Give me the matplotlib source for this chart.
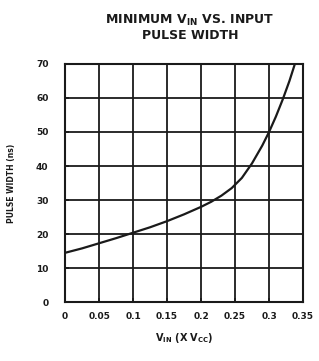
import matplotlib
matplotlib.use("Agg")
import matplotlib.pyplot as plt

plt.rcParams['font.family'] = ['DejaVu Sans']
plt.rcParams['mathtext.default'] = 'bf'

# curve
vin = [0.0, 0.025, 0.05, 0.075, 0.10, 0.125, 0.15, 0.175, 0.20, 0.215, 0.23,
       0.245, 0.26, 0.275, 0.29, 0.30, 0.31, 0.32, 0.33, 0.338]
pulse_width = [14.5, 15.8, 17.3, 18.8, 20.4, 22.0, 23.8, 25.8, 28.0, 29.5, 31.3,
               33.5, 36.5, 40.8, 46.0, 50.0, 54.5, 59.5, 65.0, 70.0]

x_ticks = [0, 0.05, 0.1, 0.15, 0.2, 0.25, 0.3, 0.35]
x_labels = ["0", "0.05", "0.1", "0.15", "0.2", "0.25", "0.3", "0.35"]
y_ticks = [0, 10, 20, 30, 40, 50, 60, 70]

ink = "#1a1a1a"

fig = plt.figure(figsize=(3.19, 3.61), dpi=100)
ax = fig.add_axes([0.204, 0.163, 0.746, 0.66])

ax.plot(vin, pulse_width, color=ink, linewidth=1.6)

ax.set_xlim(0, 0.35)
ax.set_ylim(0, 70)
ax.set_xticks(x_ticks)
ax.set_xticklabels(x_labels)
ax.set_yticks(y_ticks)
ax.grid(True, color=ink, linewidth=1.3)
ax.tick_params(direction='in', length=3, width=1.2, colors=ink,
               labelsize=6.5, pad=7)
ax.tick_params(axis='y', pad=12)
for lab in ax.get_xticklabels() + ax.get_yticklabels():
    lab.set_fontweight('bold')
for s in ax.spines.values():
    s.set_color(ink)
    s.set_linewidth(1.5)

ax.set_xlabel("V$_{IN}$ (X V$_{CC}$)", fontsize=7, fontweight='bold', color=ink, labelpad=7)
ax.set_ylabel("PULSE WIDTH (ns)", fontsize=5.5, fontweight='bold', color=ink, labelpad=14)

fig.text(0.595, 0.965, "MINIMUM V$_{IN}$ VS. INPUT\nPULSE WIDTH", ha='center', va='top',
         fontsize=9, fontweight='bold', color=ink, linespacing=1.15)

fig.savefig("out.png", dpi=100)
